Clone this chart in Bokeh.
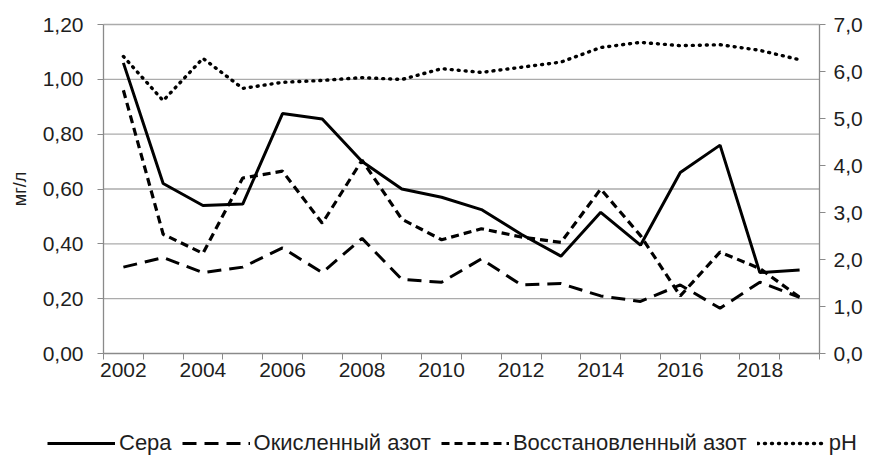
from bokeh.plotting import figure
from bokeh.models import (Range1d, LinearAxis, FixedTicker, CustomJSTickFormatter,
                          Legend, LegendItem, ColumnDataSource)
from bokeh.embed import file_html
from bokeh.resources import INLINE

years = list(range(2002, 2020))
label_years = [2002, 2004, 2006, 2008, 2010, 2012, 2014, 2016, 2018]
left_ticks = [0.0, 0.2, 0.4, 0.6, 0.8, 1.0, 1.2]
right_ticks = [0, 1, 2, 3, 4, 5, 6, 7]

sera = [1.06, 0.62, 0.54, 0.545, 0.875, 0.855, 0.70, 0.60, 0.57, 0.525,
        0.435, 0.355, 0.515, 0.395, 0.66, 0.76, 0.295, 0.305]
okisl = [0.315, 0.35, 0.295, 0.315, 0.385, 0.295, 0.42, 0.27, 0.26, 0.345,
         0.25, 0.255, 0.21, 0.19, 0.25, 0.165, 0.26, 0.205]
vosst = [0.96, 0.435, 0.365, 0.64, 0.665, 0.475, 0.705, 0.49, 0.415, 0.455,
         0.425, 0.405, 0.60, 0.43, 0.21, 0.37, 0.31, 0.205]
ph = [6.32, 5.38, 6.28, 5.64, 5.77, 5.81, 5.87, 5.83, 6.06, 5.98,
      6.09, 6.2, 6.51, 6.62, 6.55, 6.57, 6.45, 6.25]

names = ["Сера", "Окисленный азот", "Восстановленный азот", "pH"]

FONT = "Liberation Sans"
TXT = "#1e1e1e"
AX = "#8a8a8a"
GRID = "#ababab"

W, H = 873, 460
# plot area in pixels (left, right, top, bottom)
PL, PR, PT, PB = 103, 819, 24, 353

x0, x1 = years[0] - 0.5, years[-1] + 0.5
ppx = (PR - PL) / (x1 - x0)
ymax, phmax = left_ticks[-1], right_ticks[-1]
ppy = (PB - PT) / ymax
ppph = (PB - PT) / phmax

src = ColumnDataSource(dict(year=years, sera=sera, okisl=okisl, vosst=vosst, ph=ph))

# the frame covers the whole canvas so that the legend under the axes is not clipped;
# the axes are pinned at the data borders of the chart
p = figure(width=W, height=H, output_backend="svg", toolbar_location=None,
           x_range=Range1d(x0 - PL / ppx, x1 + (W - PR) / ppx),
           y_range=Range1d(-(H - PB) / ppy, ymax + PT / ppy),
           min_border=0, min_border_left=0, min_border_right=0,
           min_border_top=0, min_border_bottom=0,
           x_axis_location=None, y_axis_location=None)
p.outline_line_color = None
p.background_fill_color = "white"
p.border_fill_color = "white"
p.xgrid.grid_line_color = None
p.ygrid.grid_line_color = None
p.extra_y_ranges = {"ph": Range1d(-(H - PB) / ppph, phmax + PT / ppph)}

# horizontal gridlines at the left-axis ticks, across the chart area only
gsrc = ColumnDataSource(dict(y=left_ticks[1:], xa=[x0] * (len(left_ticks) - 1),
                             xb=[x1] * (len(left_ticks) - 1)))
p.segment(x0="xa", y0="y", x1="xb", y1="y", source=gsrc,
          line_color=GRID, line_width=1.3)

# left axis
ya = LinearAxis(fixed_location=x0, bounds=(0, ymax))
ya.ticker = FixedTicker(ticks=left_ticks)
ya.formatter = CustomJSTickFormatter(code="return tick.toFixed(2).replace('.', ',');")
ya.axis_line_color = AX
ya.axis_line_width = 1.3
ya.major_tick_line_color = AX
ya.major_tick_out = 6
ya.major_tick_in = 0
ya.minor_tick_line_color = None
ya.major_label_text_font = FONT
ya.major_label_text_font_size = "21px"
ya.major_label_text_color = TXT
ya.major_label_standoff = 14
ya.axis_label = "мг/л"
ya.axis_label_text_font = FONT
ya.axis_label_text_font_size = "18px"
ya.axis_label_text_font_style = "normal"
ya.axis_label_text_color = TXT
ya.axis_label_standoff = 10
p.add_layout(ya, "left")

# bottom axis: tick marks at category borders, labels at every other category
xa = LinearAxis(fixed_location=0, bounds=(x0, x1))
xa.ticker = FixedTicker(ticks=label_years,
                        minor_ticks=[y - 0.5 for y in years] + [years[-1] + 0.5])
xa.formatter = CustomJSTickFormatter(code="return String(tick);")
xa.axis_line_color = AX
xa.axis_line_width = 1.3
xa.major_tick_line_color = None
xa.major_tick_out = 6
xa.major_tick_in = 0
xa.minor_tick_line_color = AX
xa.minor_tick_out = 6
xa.minor_tick_in = 0
xa.major_label_text_font = FONT
xa.major_label_text_font_size = "21px"
xa.major_label_text_color = TXT
xa.major_label_standoff = 3
p.add_layout(xa, "below")

# right axis
ra = LinearAxis(y_range_name="ph", fixed_location=x1, bounds=(0, phmax))
ra.ticker = FixedTicker(ticks=right_ticks)
ra.formatter = CustomJSTickFormatter(code="return tick.toFixed(1).replace('.', ',');")
ra.axis_line_color = AX
ra.axis_line_width = 1.3
ra.major_tick_line_color = AX
ra.major_tick_out = 6
ra.major_tick_in = 0
ra.minor_tick_line_color = None
ra.major_label_text_font = FONT
ra.major_label_text_font_size = "21px"
ra.major_label_text_color = TXT
ra.major_label_standoff = 8
p.add_layout(ra, "right")

r1 = p.line("year", "sera", source=src, line_color="black", line_width=3)
r2 = p.line("year", "okisl", source=src, line_color="black", line_width=3,
            line_dash="14 8")
r3 = p.line("year", "vosst", source=src, line_color="black", line_width=3.2,
            line_dash="8 5")
r4 = p.line("year", "ph", source=src, line_color="black", line_width=3.4,
            line_dash="1 6", line_cap="round", y_range_name="ph")

legend = Legend(items=[LegendItem(label=n, renderers=[r])
                       for n, r in zip(names, [r1, r2, r3, r4])],
                orientation="horizontal", location=(47, 4),
                glyph_width=68, glyph_height=16, label_height=20,
                label_text_font=FONT, label_text_font_size="22px",
                label_text_color=TXT, label_standoff=4, spacing=10,
                padding=0, margin=0, border_line_color=None,
                background_fill_alpha=0)
p.add_layout(legend)

open("out.html", "w").write(file_html(p, INLINE))
